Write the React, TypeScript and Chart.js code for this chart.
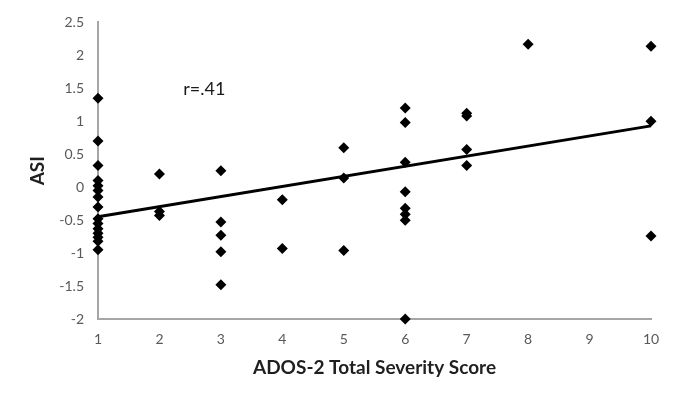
import React, { useEffect, useRef } from "react";
import { Chart, registerables } from "chart.js";

Chart.register(...registerables);

const adosScores: number[] = [
  1, 1, 1, 1, 1, 1, 1, 1, 1, 1, 1, 1, 1, 1, 1,
  2, 2, 2,
  3, 3, 3, 3, 3,
  4, 4,
  5, 5, 5,
  6, 6, 6, 6, 6, 6, 6, 6,
  7, 7, 7, 7,
  8,
  10, 10, 10,
];
const asiValues: number[] = [
  1.35, 0.7, 0.33, 0.1, 0.02, -0.05, -0.15, -0.3, -0.48, -0.55, -0.63, -0.7, -0.76, -0.82, -0.95,
  0.2, -0.37, -0.43,
  0.25, -0.53, -0.73, -0.98, -1.48,
  -0.19, -0.93,
  0.6, 0.14, -0.96,
  1.2, 0.98, 0.38, -0.07, -0.32, -0.41, -0.5, -2.0,
  1.12, 1.08, 0.57, 0.33,
  2.17,
  2.14, 1.0, -0.74,
];
const trendX: number[] = [1, 10];
const trendY: number[] = [-0.45, 0.93];
const annotationText = "r=.41";
const annotationPos = { x: 2.73, y: 1.48 };
const xTitle = "ADOS-2 Total Severity Score";
const yTitle = "ASI";

const FONT = "Lato, 'Open Sans', sans-serif";

export default function App() {
  const ref = useRef<HTMLCanvasElement | null>(null);
  useEffect(() => {
    if (!ref.current) return;
    const annot = {
      id: "annot",
      afterDatasetsDraw(chart: any) {
        const ctx = chart.ctx;
        const x = chart.scales.x.getPixelForValue(annotationPos.x);
        const y = chart.scales.y.getPixelForValue(annotationPos.y);
        ctx.save();
        ctx.font = `18px ${FONT}`;
        ctx.fillStyle = "#1a1a1a";
        ctx.textAlign = "center";
        ctx.textBaseline = "middle";
        ctx.fillText(annotationText, x, y);
        ctx.restore();
      },
    };
    const chart = new Chart(ref.current, {
      type: "scatter",
      data: {
        datasets: [
          {
            type: "line",
            data: trendX.map((x, i) => ({ x, y: trendY[i] })),
            borderColor: "#000",
            borderWidth: 3,
            pointRadius: 0,
            fill: false,
            clip: false,
            order: 2,
          } as any,
          {
            data: adosScores.map((x, i) => ({ x, y: asiValues[i] })),
            pointStyle: "rectRot",
            pointRadius: 5.5,
            backgroundColor: "#000",
            borderColor: "#000",
            borderWidth: 0,
            clip: false,
            order: 1,
          } as any,
        ],
      },
      options: {
        responsive: false,
        animation: false,
        layout: { padding: { top: 20, right: 33, left: 0, bottom: 0 } },
        plugins: { legend: { display: false }, tooltip: { enabled: false } },
        scales: {
          x: {
            type: "linear",
            min: 1,
            max: 10,
            grid: { display: false, drawTicks: false },
            border: { display: true, color: "#a6a6a6", width: 2 },
            ticks: {
              stepSize: 1,
              padding: 12,
              color: "#595959",
              font: { family: FONT, size: 14 },
            },
            title: {
              display: true,
              text: xTitle,
              color: "#1f1f1f",
              font: { family: FONT, size: 19, weight: "bold" },
              padding: { top: 0, bottom: 17 },
            },
            afterFit(scale: any) {
              scale.height = 77;
            },
          },
          y: {
            type: "linear",
            min: -2,
            max: 2.5,
            grid: { display: false, drawTicks: false },
            border: { display: true, color: "#a6a6a6", width: 2 },
            ticks: {
              stepSize: 0.5,
              padding: 14,
              color: "#595959",
              font: { family: FONT, size: 14 },
              callback: (v: any) => String(Math.round(Number(v) * 10) / 10),
            },
            title: {
              display: true,
              text: yTitle,
              color: "#1f1f1f",
              font: { family: FONT, size: 19, weight: "bold" },
              padding: { top: 26, bottom: 0 },
            },
            afterFit(scale: any) {
              scale.width = 98;
            },
          },
        },
      },
      plugins: [annot],
    });
    return () => chart.destroy();
  }, []);
  return (
    <div style={{ position: "fixed", left: 0, top: 0, width: 684, height: 396, background: "#fff" }}>
      <canvas ref={ref} width={684} height={396} style={{ display: "block" }} />
    </div>
  );
}
